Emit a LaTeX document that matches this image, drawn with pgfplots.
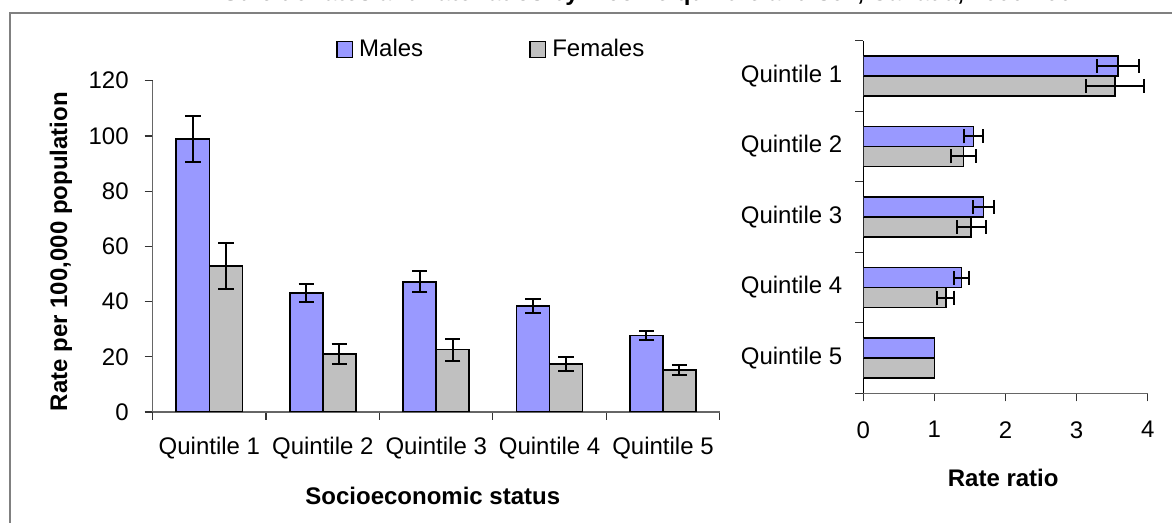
\documentclass[border=0pt]{standalone}
\usepackage{fontspec}
\setmainfont{Liberation Sans}
\usepackage{pgfplots}
\pgfplotsset{compat=1.18}
\definecolor{male}{HTML}{9999FF}
\definecolor{female}{HTML}{C0C0C0}
\definecolor{axgray}{HTML}{808080}
\newcommand\lblfont{\fontsize{12}{13.5}\selectfont}
\pgfplotsset{
  mystyle/.style={
    scale only axis,
    tick label style={font=\lblfont},
    label style={font=\lblfont\bfseries},
    /pgf/number format/assume math mode=true,
    tick align=outside, major tick length=4pt,
    tick style={black!80, line width=0.6pt},
    axis line style={black!60, line width=0.7pt, -},
  },
}
\begin{document}
\begin{tikzpicture}
\useasboundingbox (0pt,0pt) rectangle (586pt,261.5pt);
\clip (0pt,0pt) rectangle (586pt,261.5pt);
\fill[white] (0pt,0pt) rectangle (586pt,261.5pt);
\draw[axgray, line width=1pt] (4.75pt,-10pt) -- (4.75pt,254.75pt) -- (600pt,254.75pt);
\node[font=\lblfont\bfseries, anchor=base] at (327pt,261pt) {Suicide rates and rate ratios by income quintile and sex, Canada, 2000-2004};

\begin{axis}[mystyle, at={(76.35pt,55.5pt)}, anchor=south west,
  width=283.5pt, height=165.65pt,
  xmin=-0.5, xmax=4.5, ymin=0, ymax=120, ytick={0,20,...,120},
  xtick={-0.5,0.5,...,4.5}, x tick label as interval,
  xticklabels={Quintile 1,Quintile 2,Quintile 3,Quintile 4,Quintile 5},
  xticklabel style={yshift=-5pt},
  yticklabel style={xshift=-4.5pt},
  axis x line*=bottom, axis y line*=left,
  ybar=0pt, bar width=16.5pt,
  xlabel={Socioeconomic status}, ylabel={Rate per 100,000 population},
  xlabel style={at={(axis description cs:0.494,-0.254)}, anchor=center},
  ylabel style={at={(axis description cs:-0.162,0.484)}, anchor=center},
  legend columns=2,
  legend style={at={(axis description cs:0.323,1.094)}, anchor=west, draw=none, fill=none,
    inner sep=0pt, font=\lblfont,
    /tikz/every odd column/.style={column sep=1pt},
    /tikz/every even column/.style={column sep=51pt}},
  legend image code/.code={\draw[#1, line width=0.7pt] (0pt,-3.9pt) rectangle (7.8pt,3.9pt);},
]
\addplot[fill=male, draw=black, line width=0.9pt,
  error bars/.cd, y dir=both, y explicit,
  error bar style={line width=1pt, black},
  error mark options={rotate=90, mark size=3.8pt, line width=1pt, black}]
  coordinates {(0,99.0) +- (0,8.3) (1,43.0) +- (0,3.3) (2,47.2) +- (0,3.8) (3,38.3) +- (0,2.6) (4,27.7) +- (0,1.7)};
\addlegendentry{Males}
\addplot[fill=female, draw=black, line width=0.9pt,
  error bars/.cd, y dir=both, y explicit,
  error bar style={line width=1pt, black},
  error mark options={rotate=90, mark size=3.8pt, line width=1pt, black}]
  coordinates {(0,52.8) +- (0,8.3) (1,21.0) +- (0,3.6) (2,22.6) +- (0,4.0) (3,17.3) +- (0,2.5) (4,15.2) +- (0,1.8)};
\addlegendentry{Females}
\end{axis}

\begin{axis}[mystyle, at={(431.65pt,64.85pt)}, anchor=south west,
  width=142.2pt, height=176.3pt,
  xmin=0, xmax=4, xtick={0,...,4},
  ymin=-0.5, ymax=4.5, ytick={-0.5,0.5,...,4.5}, y tick label as interval,
  yticklabels={Quintile 5,Quintile 4,Quintile 3,Quintile 2,Quintile 1},
  xticklabel style={yshift=-6.5pt},
  yticklabel style={xshift=-3pt},
  axis x line*=bottom, axis y line*=left,
  y axis line style={black},
  xbar=0pt, bar width=10pt,
  xlabel={Rate ratio},
  xlabel style={at={(axis description cs:0.492,-0.239)}, anchor=center},
]
\addplot[fill=female, draw=black, line width=0.9pt, bar shift=-5pt,
  error bars/.cd, x dir=both, x explicit,
  error bar style={line width=1pt, black},
  error mark options={rotate=90, mark size=3.5pt, line width=1pt, black}]
  coordinates {(1.16,1) +- (0.12,0) (1.52,2) +- (0.20,0) (1.41,3) +- (0.18,0) (3.54,4) +- (0.41,0)};
\addplot[fill=male, draw=black, line width=0.9pt, bar shift=5pt,
  error bars/.cd, x dir=both, x explicit,
  error bar style={line width=1pt, black},
  error mark options={rotate=90, mark size=3.5pt, line width=1pt, black}]
  coordinates {(1.38,1) +- (0.10,0) (1.69,2) +- (0.15,0) (1.55,3) +- (0.13,0) (3.58,4) +- (0.30,0)};
\addplot[fill=female, draw=black, line width=0.9pt, bar shift=-5pt] coordinates {(1.00,0)};
\addplot[fill=male, draw=black, line width=0.9pt, bar shift=5pt] coordinates {(1.00,0)};
\end{axis}
\end{tikzpicture}
\end{document}
